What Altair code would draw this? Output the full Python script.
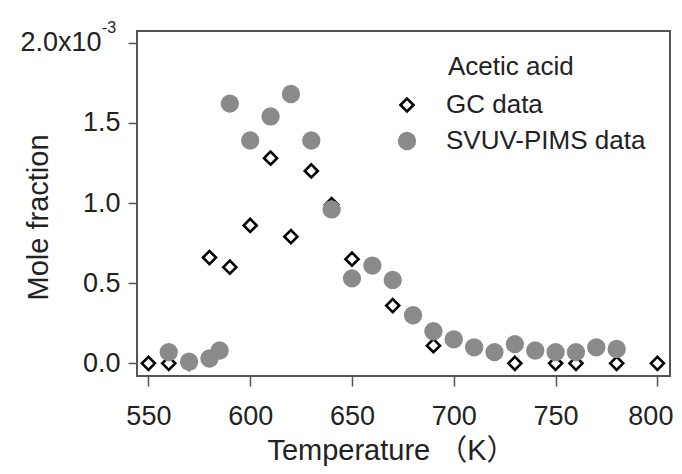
import altair as alt
import pandas as pd

# GC data (mole fraction, units of 1e-3)
gc_T = [550, 560, 570, 580, 590, 600, 610, 620, 630, 640, 650, 670, 690, 730, 750, 760, 780, 800]
gc_v = [0.0, 0.0, 0.0, 0.66, 0.60, 0.86, 1.28, 0.79, 1.20, 0.99, 0.65, 0.36, 0.11, 0.0, 0.0, 0.0, 0.0, 0.0]

# SVUV-PIMS data (mole fraction, units of 1e-3)
sv_T = [560, 570, 580, 585, 590, 600, 610, 620, 630, 640, 650, 660, 670, 680, 690, 700, 710, 720, 730, 740, 750, 760, 770, 780]
sv_v = [0.07, 0.01, 0.03, 0.08, 1.62, 1.39, 1.54, 1.68, 1.39, 0.96, 0.53, 0.61, 0.52, 0.30, 0.20, 0.15, 0.10, 0.07, 0.12, 0.08, 0.07, 0.07, 0.10, 0.09]

series_names = ["GC data", "SVUV-PIMS data"]
x_ticks = [550, 600, 650, 700, 750, 800]
y_ticks = [0.0, 0.5, 1.0, 1.5, 2.0]

df = pd.DataFrame({
    "T": gc_T + sv_T,
    "v": gc_v + sv_v,
    "series": [series_names[0]] * len(gc_T) + [series_names[1]] * len(sv_T),
})

FONT = "Liberation Sans, Arial, Noto Sans CJK SC"
GRAY = "#8a8a8a"

points = alt.Chart(df).mark_point(opacity=1).encode(
    x=alt.X("T:Q",
            scale=alt.Scale(domain=[544.4, 806.2], nice=False, zero=False),
            axis=alt.Axis(values=x_ticks, title="Temperature （K）", grid=False, domain=False,
                          tickSize=10, tickWidth=1.5, tickColor="#555",
                          labelFontSize=27, labelPadding=17, labelColor="#222", labelFont=FONT,
                          labelOffset={"condition": {"test": "datum.value == 800", "value": -7}, "value": 0},
                          titleFontSize=29, titleFont=FONT, titleFontWeight="normal", titleColor="#222",
                          titleX=254, titleY=83, titleBaseline="alphabetic", titleAlign="center")),
    y=alt.Y("v:Q",
            scale=alt.Scale(domain=[-0.079, 2.073], nice=False, zero=False),
            axis=alt.Axis(values=y_ticks, title="Mole fraction", grid=False, domain=False,
                          labelExpr="datum.value == 2 ? '2.0x10' : format(datum.value, '.1f')",
                          labelPadding={"condition": {"test": "datum.value == 2", "value": 27}, "value": 8},
                          tickSize=9, tickWidth=1.5, tickColor="#555",
                          labelFontSize=27, labelColor="#222", labelFont=FONT,
                          titleFontSize=29, titleFont=FONT, titleFontWeight="normal", titleColor="#222",
                          titleX=-90, titleY=186, titleBaseline="alphabetic", titleAlign="center")),
    shape=alt.Shape("series:N", scale=alt.Scale(domain=series_names, range=["diamond", "circle"]),
                    title=None,
                    legend=alt.Legend(orient="none", legendX=257, legendY=61, padding=0,
                                      labelFontSize=26, labelFont=FONT, labelColor="#222",
                                      labelOffset=26, rowPadding=10, labelLimit=400)),
    fill=alt.Fill("series:N", scale=alt.Scale(domain=series_names, range=["white", GRAY]), title=None),
    stroke=alt.Stroke("series:N", scale=alt.Scale(domain=series_names, range=["black", GRAY]), title=None),
    size=alt.Size("series:N", scale=alt.Scale(domain=series_names, range=[170, 335]), title=None),
    strokeWidth=alt.StrokeWidth("series:N", scale=alt.Scale(domain=series_names, range=[2.6, 0.01]), title=None),
)

legend_title = alt.Chart(pd.DataFrame({"t": ["Acetic acid"]})).mark_text(
    align="left", baseline="alphabetic", fontSize=26, font=FONT, color="#222"
).encode(text="t:N", x=alt.value(311), y=alt.value(44))

exponent = alt.Chart(pd.DataFrame({"t": ["-3"]})).mark_text(
    align="left", baseline="alphabetic", fontSize=16, font=FONT, color="#222"
).encode(text="t:N", x=alt.value(-35), y=alt.value(2))

chart = alt.layer(points, legend_title, exponent).properties(
    width=533, height=345,
    background="white",
    autosize=alt.AutoSizeParams(type="none"),
    padding={"left": 129, "top": 23, "right": 4, "bottom": 90},
).configure_view(stroke="#555", strokeWidth=2)

chart.save("out.html", embed_options={"renderer": "svg", "actions": False})
